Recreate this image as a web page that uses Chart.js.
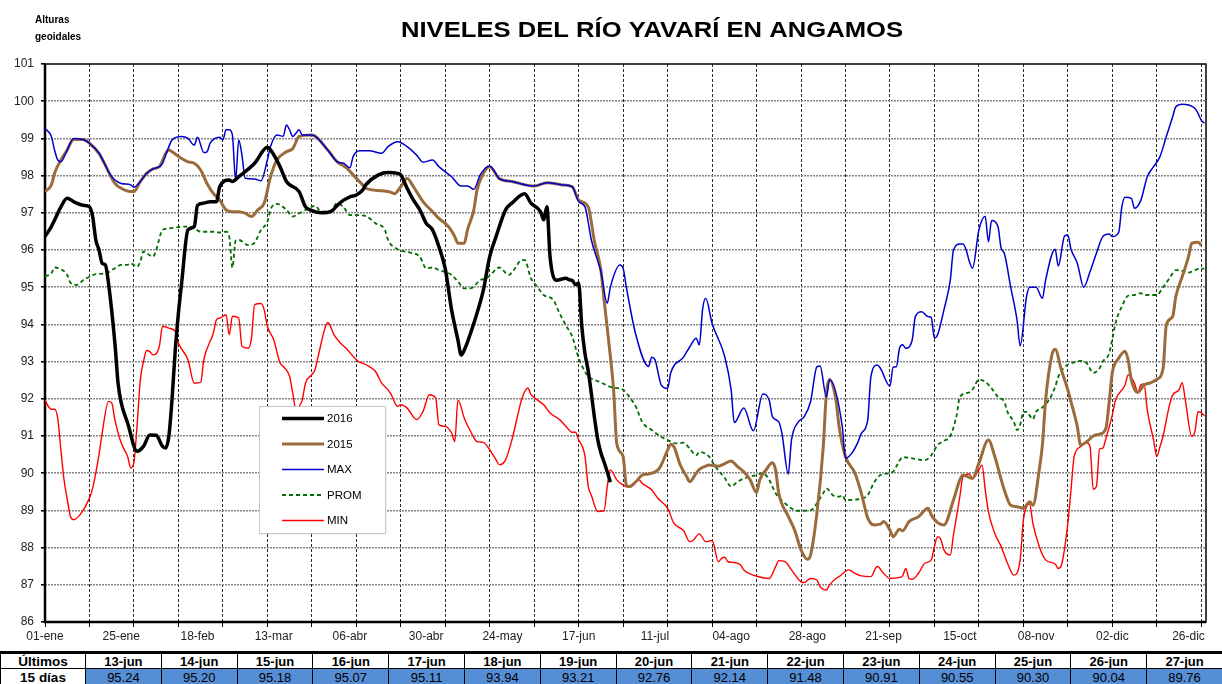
<!DOCTYPE html>
<html>
<head>
<meta charset="UTF-8">
<title>Niveles del río Yavarí en Angamos</title>
<script src="https://cdn.jsdelivr.net/npm/chart.js@4.4.1/dist/chart.umd.min.js"></script>
<style>
  html, body {margin: 0; padding: 0; background: #fff; width: 1222px; height: 684px; overflow: hidden;}
  body {position: relative; font-family: "Liberation Sans", Arial, sans-serif;}
  #chart {position: absolute; left: 0; top: 0;}
  #tabla {
    position: absolute; left: 0; top: 651px; width: 1222px;
    border-collapse: collapse; table-layout: fixed;
    font-family: "Liberation Sans Narrow", "Liberation Sans", Arial, sans-serif;
    font-size: 13px; color: #000;
  }
  #tabla td {border: 1px solid #000; text-align: center; padding: 0; overflow: visible;}
  #tabla tr:first-child td {border-top: 3px solid #000; font-weight: bold; height: 13px; line-height: 13px; padding-top: 1px;}
  #tabla tr:nth-child(2) td {height: 16px; line-height: 15px;}
  #tabla td.head {font-weight: bold; font-size: 13.5px;}
  #tabla td.val {background: #558ed5;}
</style>
</head>
<body>
<canvas id="chart" width="1222" height="648"></canvas>
<table id="tabla">
  <colgroup id="cols"></colgroup>
  <tr id="filaFechas"><td class="head">Últimos</td></tr>
  <tr id="filaValores"><td class="head">15 días</td></tr>
</table>
<script>
// eje x: dia del año (0 = 01-ene)
const xLabels = ['01-ene','25-ene','18-feb','13-mar','06-abr','30-abr','24-may','17-jun',
                 '11-jul','04-ago','28-ago','21-sep','15-oct','08-nov','02-dic','26-dic'];

// series [dia, nivel]
const s2016 = [[0,96.36],[2,96.63],[3,96.8],[5,97.16],[7,97.39],[9,97.3],[12,97.2],[14,97.16],[15,96.9],[16,96.27],
  [17,96.0],[18,95.64],[19,95.6],[20,95.1],[22,93.5],[23,92.42],[24,91.89],[26,91.35],[29,90.59],[31,90.72],
  [33,91.03],[35,91.02],[37,90.72],[38,90.68],[39,91.0],[40,92.0],[41,93.3],[42,94.3],[43,95.1],[45,96.54],
  [47,96.63],[48,97.2],[50,97.26],[52,97.3],[54,97.3],[55,97.7],[58,97.88],[59,97.84],[61,97.97],[66,98.33],
  [70,98.76],[71,98.69],[74,98.24],[76,97.84],[80,97.57],[82,97.16],[84,97.06],[87,97.0],[90,97.03],[92,97.2],
  [94,97.34],[96,97.43],[98,97.48],[100,97.61],[101,97.75],[105,98.02],[108,98.08],[111,98.06],[112,98.02],[114,97.66],
  [116,97.34],[118,97.08],[120,96.72],[122,96.54],[124,96.09],[126,95.5],[128,94.39],[130,93.58],[131,93.18],[132,93.31],
  [135,94.03],[138,94.92],[140,95.82],[142,96.36],[145,97.08],[147,97.26],[151,97.51],[153,97.26],[156,97.03],[157,96.81],
  [158,97.16],[159,95.82],[161,95.19],[164,95.24],[165,95.20],[166,95.18],[167,95.07],[168,95.11],[169,93.94],[170,93.21],
  [171,92.76],[172,92.14],[173,91.48],[174,90.91],[175,90.55],[176,90.30],[177,90.04],[178,89.76]];

const s2015 = [[0,97.57],[2,97.75],[3,98.06],[5,98.42],[7,98.69],[8,98.87],[9,98.97],[12,98.97],[14,98.87],[17,98.6],
  [19,98.28],[22,97.79],[24,97.66],[27,97.57],[28,97.57],[30,97.84],[32,98.06],[34,98.18],[36,98.24],[38,98.6],
  [39,98.69],[40,98.64],[43,98.46],[45,98.37],[47,98.33],[49,98.15],[51,97.79],[53,97.52],[55,97.34],[57,97.08],
  [59,97.03],[61,97.03],[63,96.99],[65,96.9],[67,97.08],[69,97.26],[71,97.97],[73,98.42],[76,98.64],[78,98.73],
  [80,99.05],[84,99.09],[89,98.69],[92,98.37],[95,98.2],[97,98.02],[100,97.75],[101,97.66],[106,97.59],[109,97.55],
  [110,97.51],[112,97.7],[114,97.92],[116,97.7],[119,97.3],[122,97.03],[124,96.85],[127,96.63],[129,96.36],[130,96.18],
  [132,96.18],[133,96.54],[135,97.08],[136,97.61],[138,98.06],[140,98.24],[143,97.92],[147,97.84],[154,97.72],[158,97.81],
  [163,97.75],[166,97.7],[168,97.34],[171,97.16],[173,96.22],[175,95.46],[176,94.66],[178,93.13],[179,92.24],[180,90.8],
  [182,90.45],[183,89.68],[184,89.64],[186,89.77],[188,89.95],[190,89.98],[193,90.09],[194,90.22],[196,90.62],[197,90.78],
  [198,90.71],[200,90.22],[202,89.91],[203,89.77],[205,90.0],[206,90.1],[208,90.19],[209,90.22],[212,90.19],[214,90.26],
  [216,90.33],[218,90.18],[220,90.04],[222,89.82],[224,89.48],[225,89.82],[227,90.09],[229,90.28],[230,90.09],[231,89.46],
  [234,88.84],[236,88.47],[238,87.94],[240,87.69],[241,87.8],[243,88.92],[245,90.71],[246,92.15],[247,92.52],[249,91.96],
  [250,91.25],[252,90.45],[255,90.0],[257,89.46],[259,88.8],[261,88.61],[263,88.63],[264,88.7],[266,88.47],[267,88.29],
  [269,88.49],[270,88.45],[272,88.7],[275,88.83],[278,89.06],[279,88.88],[281,88.67],[283,88.61],[286,89.28],[288,89.82],
  [289,89.95],[292,89.86],[294,90.27],[297,90.89],[299,90.45],[302,89.55],[304,89.14],[306,89.1],[308,89.06],[310,89.23],
  [311,89.14],[313,90.09],[314,90.76],[315,91.96],[317,93.18],[318,93.33],[320,92.77],[322,92.24],[323,91.92],[325,91.25],
  [326,90.76],[328,90.85],[330,91.0],[332,91.05],[334,91.21],[335,91.9],[336,92.7],[338,93.09],[340,93.28],[341,93.04],
  [342,92.51],[344,92.17],[346,92.37],[348,92.43],[350,92.52],[352,92.82],[353,93.98],[355,94.21],[356,94.75],[358,95.28],
  [360,95.82],[361,96.18],[363,96.21],[364,96.13]];

const sMax = [[0,99.27],[2,99.05],[3,98.69],[4,98.42],[5,98.37],[7,98.69],[9,99.0],[12,98.97],[14,98.87],[17,98.6],
  [19,98.28],[20,98.1],[22,97.88],[24,97.79],[27,97.75],[28,97.69],[30,97.84],[32,98.06],[34,98.18],[36,98.24],
  [37,98.33],[39,98.78],[40,98.96],[43,99.05],[45,99.0],[47,98.82],[48,99.03],[50,98.62],[51,98.64],[52,98.87],
  [55,99.03],[56,98.96],[57,99.23],[58,99.23],[59,99.09],[60,97.88],[61,98.96],[62,98.55],[63,97.93],[66,97.91],
  [68,97.86],[70,98.42],[71,98.78],[73,99.09],[75,99.06],[76,99.36],[77,99.23],[78,99.05],[79,99.14],[80,99.23],
  [81,99.09],[84,99.09],[89,98.69],[92,98.37],[94,98.33],[96,98.21],[97,98.51],[99,98.67],[102,98.67],[106,98.6],
  [108,98.78],[111,98.91],[114,98.78],[117,98.55],[119,98.36],[122,98.42],[124,98.24],[128,97.97],[131,97.72],[133,97.72],
  [135,97.63],[137,98.02],[140,98.26],[143,97.92],[147,97.84],[154,97.72],[158,97.81],[163,97.75],[166,97.7],[168,97.3],
  [170,97.16],[172,96.27],[175,95.42],[177,94.57],[178,95.01],[181,95.6],[182,95.51],[183,95.01],[186,93.72],[190,92.87],
  [191,93.12],[192,93.06],[194,92.37],[196,92.28],[197,92.7],[201,93.12],[203,93.4],[205,93.63],[206,93.45],[207,94.39],
  [208,94.7],[210,94.03],[214,93.13],[216,92.24],[217,91.36],[220,91.75],[223,91.14],[226,92.13],[228,91.96],[229,91.52],
  [231,91.38],[232,91.07],[234,89.98],[235,90.89],[237,91.36],[239,91.52],[241,91.92],[243,92.86],[244,92.88],[246,92.05],
  [247,92.51],[251,91.25],[252,90.4],[254,90.54],[256,90.85],[257,91.07],[259,91.43],[260,92.59],[262,92.91],[263,92.82],
  [266,92.34],[267,92.85],[268,92.86],[269,93.35],[270,93.45],[271,93.36],[273,93.58],[274,94.21],[276,94.34],[278,94.21],
  [279,94.19],[280,93.63],[281,93.72],[283,94.39],[285,95.19],[286,96.0],[288,96.16],[289,96.16],[290,96.0],[291,95.69],
  [292,95.51],[294,96.54],[296,96.91],[297,96.22],[298,96.79],[300,96.63],[301,96.05],[302,95.91],[304,95.01],[306,94.12],
  [307,93.42],[309,94.75],[310,95.0],[312,95.0],[314,94.7],[315,95.19],[318,96.02],[319,95.57],[321,96.38],[322,96.4],
  [323,96.02],[325,95.64],[327,95.0],[329,95.42],[331,95.91],[333,96.36],[335,96.43],[336,96.36],[338,96.47],[339,97.16],
  [340,97.42],[342,97.39],[343,97.12],[345,97.34],[347,97.97],[349,98.24],[351,98.51],[353,99.05],[355,99.58],[356,99.85],
  [358,99.92],[360,99.9],[362,99.81],[363,99.67],[364,99.49],[365,99.41]];

const sProm = [[0,95.3],[2,95.37],[3,95.53],[5,95.48],[7,95.33],[8,95.12],[10,95.06],[12,95.19],[14,95.28],[16,95.35],
  [19,95.37],[22,95.51],[24,95.6],[26,95.6],[27,95.64],[29,95.55],[30,95.69],[31,95.96],[34,95.82],[35,96.0],
  [37,96.54],[39,96.58],[44,96.63],[47,96.58],[49,96.49],[53,96.49],[55,96.47],[57,96.49],[58,96.36],[59,95.53],
  [60,96.25],[61,96.27],[64,96.13],[66,96.2],[68,96.54],[70,96.76],[71,97.09],[73,97.24],[76,97.08],[78,96.9],
  [80,96.98],[83,97.12],[85,97.19],[87,97.03],[90,97.06],[92,97.26],[94,97.15],[96,96.94],[98,96.94],[101,96.91],
  [104,96.72],[107,96.54],[108,96.27],[111,96.02],[115,95.93],[118,95.82],[120,95.51],[122,95.53],[124,95.46],[128,95.33],
  [130,95.15],[132,94.97],[134,94.97],[137,95.19],[139,95.24],[142,95.48],[143,95.53],[146,95.33],[148,95.51],[150,95.73],
  [151,95.73],[153,95.24],[155,95.01],[157,94.79],[160,94.66],[162,94.3],[164,93.97],[166,93.67],[168,93.1],[171,92.6],
  [173,92.51],[175,92.44],[178,92.32],[182,92.24],[184,92.05],[186,91.79],[188,91.38],[191,91.16],[194,90.98],[196,90.89],
  [199,90.8],[201,90.82],[203,90.66],[205,90.48],[206,90.57],[209,90.45],[211,90.18],[214,89.87],[216,89.64],[218,89.77],
  [221,89.89],[224,89.95],[226,90.0],[228,89.82],[230,89.46],[233,89.19],[235,89.05],[237,88.99],[241,89.0],[243,89.19],
  [245,89.46],[246,89.59],[248,89.41],[250,89.37],[251,89.41],[252,89.28],[256,89.3],[259,89.41],[261,89.75],[263,89.95],
  [267,90.04],[268,90.18],[270,90.43],[273,90.4],[277,90.35],[279,90.48],[281,90.76],[283,90.87],[285,91.0],[287,91.56],
  [288,92.05],[291,92.17],[292,92.25],[294,92.51],[296,92.46],[298,92.28],[300,92.05],[302,91.92],[303,91.65],[305,91.38],
  [306,91.16],[307,91.3],[308,91.65],[309,91.65],[311,91.45],[312,91.65],[314,91.77],[316,91.96],[318,92.32],[319,92.59],
  [321,92.86],[323,92.95],[326,93.02],[328,92.95],[330,92.7],[332,92.82],[333,93.0],[335,93.22],[336,93.6],[337,94.03],
  [339,94.48],[341,94.77],[343,94.79],[345,94.84],[346,94.79],[350,94.79],[352,95.0],[354,95.24],[356,95.46],[358,95.44],
  [360,95.39],[362,95.46],[364,95.5],[365,95.5]];

const sMin = [[0,91.97],[1,91.8],[2,91.72],[3,91.72],[4,91.48],[5,90.63],[6,89.82],[7,89.3],[8,88.84],[9,88.75],
  [11,88.88],[14,89.33],[15,89.6],[17,90.5],[18,91.08],[20,91.93],[21,91.89],[22,91.44],[24,90.81],[26,90.45],
  [27,90.14],[28,90.3],[29,91.3],[30,92.5],[31,93.0],[32,93.3],[33,93.27],[34,93.18],[36,93.41],[37,93.95],
  [39,93.9],[41,93.81],[42,93.5],[45,93.05],[47,92.42],[49,92.44],[50,93.05],[53,93.77],[54,94.13],[55,94.17],
  [57,94.26],[58,93.72],[59,94.22],[61,94.17],[62,93.41],[64,93.36],[65,93.63],[66,94.53],[68,94.56],[69,94.39],
  [70,93.95],[72,93.59],[74,92.96],[75,92.87],[77,92.6],[78,92.15],[79,91.71],[80,91.8],[81,91.97],[82,92.42],
  [84,92.65],[85,92.78],[86,93.14],[88,93.86],[89,94.05],[91,93.72],[93,93.5],[95,93.34],[97,93.14],[99,92.98],
  [100,92.96],[102,92.87],[104,92.74],[106,92.42],[108,92.24],[109,92.11],[111,91.8],[112,91.84],[114,91.75],[117,91.44],
  [119,91.66],[121,92.11],[123,92.02],[124,91.3],[126,91.26],[128,91.08],[129,90.85],[130,91.97],[132,91.48],[134,91.12],
  [136,90.85],[138,90.83],[140,90.63],[142,90.36],[143,90.23],[145,90.36],[147,90.9],[149,91.62],[150,91.97],[152,92.29],
  [153,92.11],[155,91.97],[157,91.84],[159,91.62],[162,91.44],[164,91.26],[166,91.1],[167,91.1],[168,90.9],[170,90.45],
  [171,89.65],[172,89.41],[174,88.97],[176,88.99],[177,89.64],[178,90.09],[180,89.82],[182,89.68],[184,89.62],[187,89.82],
  [188,89.73],[191,89.55],[193,89.32],[196,89.06],[198,88.65],[201,88.46],[203,88.16],[204,88.19],[206,88.37],[208,88.16],
  [210,88.19],[212,87.62],[213,87.71],[214,87.74],[215,87.62],[217,87.6],[219,87.53],[220,87.4],[223,87.26],[226,87.19],
  [228,87.17],[230,87.49],[231,87.65],[233,87.62],[235,87.4],[238,87.08],[239,87.06],[241,87.17],[243,87.13],[244,86.95],
  [246,86.86],[247,87.0],[249,87.17],[250,87.22],[253,87.4],[255,87.31],[257,87.24],[260,87.22],[262,87.49],[264,87.31],
  [266,87.17],[269,87.2],[270,87.24],[271,87.44],[272,87.17],[273,87.15],[275,87.31],[277,87.58],[279,87.67],[280,88.03],
  [281,88.29],[282,88.22],[283,87.94],[285,87.8],[286,88.34],[288,89.37],[289,89.91],[291,89.98],[292,89.86],[294,90.09],
  [295,90.22],[296,89.55],[297,88.97],[299,88.38],[301,88.03],[303,87.58],[305,87.26],[307,87.67],[308,88.74],[309,89.1],
  [310,89.17],[311,88.65],[313,88.03],[315,87.67],[318,87.56],[319,87.44],[320,87.53],[322,88.65],[323,89.55],[324,90.45],
  [326,90.71],[328,90.82],[329,90.71],[330,89.57],[331,89.64],[332,90.65],[333,90.67],[334,90.94],[336,91.56],[337,91.96],
  [340,92.37],[341,92.64],[343,92.42],[344,92.17],[345,92.37],[346,92.4],[347,91.7],[349,90.89],[350,90.45],[351,90.71],
  [352,91.0],[354,91.83],[355,92.1],[357,92.24],[358,92.43],[359,91.96],[361,90.99],[362,91.12],[363,91.65],[364,91.63],
  [365,91.54]];

// tabla de los ultimos 15 dias
const tablaFechas = ['13-jun','14-jun','15-jun','16-jun','17-jun','18-jun','19-jun','20-jun',
                     '21-jun','22-jun','23-jun','24-jun','25-jun','26-jun','27-jun'];
const tablaValores = [95.24,95.20,95.18,95.07,95.11,93.94,93.21,92.76,92.14,91.48,90.91,90.55,90.30,90.04,89.76];

// build table
var cols = document.getElementById('cols');
var c0 = document.createElement('col'); c0.style.width = '85px'; cols.appendChild(c0);
tablaFechas.forEach(function (f, i) {
  var c = document.createElement('col'); c.style.width = '75.8px'; cols.appendChild(c);
  var td = document.createElement('td'); td.textContent = f;
  document.getElementById('filaFechas').appendChild(td);
  var tv = document.createElement('td'); tv.className = 'val'; tv.textContent = tablaValores[i].toFixed(2);
  document.getElementById('filaValores').appendChild(tv);
});

const FONT = '"Liberation Sans", Arial, sans-serif';
const toXY = s => s.map(p => ({x: p[0], y: p[1]}));

// ticks: grid lines every 14 days, labels every 24 days
var tickVals = [];
for (var d = 0; d <= 365; d++) {
  if (d % 14 === 0 || (d % 24 === 0 && d <= 360)) tickVals.push(d);
}

// titles and frame
const decoPlugin = {
  id: 'deco',
  beforeDraw(chart) {
    const ctx = chart.ctx;
    ctx.save();
    ctx.fillStyle = '#000';
    ctx.textBaseline = 'middle';
    ctx.font = 'bold 10px ' + FONT;
    ctx.textAlign = 'left';
    ctx.fillText('Alturas', 35, 20);
    ctx.fillText('geoidales', 35, 37);
    // title, a little wider than the plain font
    const title = 'NIVELES DEL RÍO YAVARÍ EN ANGAMOS';
    ctx.font = 'bold 22px ' + FONT;
    const w = ctx.measureText(title).width;
    ctx.translate(652, 31);
    ctx.scale(502 / w, 1);
    ctx.textAlign = 'center';
    ctx.fillText(title, 0, 0);
    ctx.restore();
  },
  beforeDatasetsDraw(chart) {
    const a = chart.chartArea, ctx = chart.ctx;
    ctx.save();
    ctx.strokeStyle = '#000';
    ctx.lineWidth = 1.5;
    ctx.strokeRect(a.left, a.top, a.right - a.left, a.bottom - a.top);
    ctx.lineWidth = 2.5;
    ctx.beginPath();
    ctx.moveTo(a.left, a.top); ctx.lineTo(a.left, a.bottom); ctx.lineTo(a.right, a.bottom);
    ctx.stroke();
    ctx.restore();
  },
  afterDatasetsDraw(chart) {
    // legend box
    const ctx = chart.ctx;
    const bx = 259, by = 406, bw = 126, bh = 127;
    ctx.save();
    ctx.shadowColor = 'rgba(0,0,0,0.15)';
    ctx.shadowOffsetX = 1; ctx.shadowOffsetY = 1; ctx.shadowBlur = 2;
    ctx.fillStyle = '#fff';
    ctx.fillRect(bx, by, bw, bh);
    ctx.shadowColor = 'transparent';
    ctx.strokeStyle = '#c8c8c8';
    ctx.lineWidth = 1;
    ctx.strokeRect(bx + 0.5, by + 0.5, bw, bh);
    ctx.font = '11.5px ' + FONT;
    ctx.textBaseline = 'middle';
    ctx.textAlign = 'left';
    chart.data.datasets.forEach(function (ds, i) {
      const y = by + 12.5 + i * 25.5;
      ctx.strokeStyle = ds.borderColor;
      ctx.lineWidth = ds.borderWidth;
      ctx.setLineDash(ds.borderDash || []);
      ctx.beginPath(); ctx.moveTo(282, y); ctx.lineTo(324, y); ctx.stroke();
      ctx.setLineDash([]);
      ctx.fillStyle = '#000';
      ctx.fillText(ds.label, 327, y + 0.5);
    });
    ctx.restore();
  }
};

var myChart = new Chart(document.getElementById('chart'), {
  type: 'line',
  data: {
    datasets: [
      {label: '2016', data: toXY(s2016), borderColor: '#000000', borderWidth: 3.5, order: 0},
      {label: '2015', data: toXY(s2015), borderColor: '#9b6b3b', borderWidth: 3, order: 2},
      {label: 'MAX', data: toXY(sMax), borderColor: '#0000cc', borderWidth: 1.5, order: 1},
      {label: 'PROM', data: toXY(sProm), borderColor: '#006e00', borderWidth: 1.8, borderDash: [4, 3], order: 3},
      {label: 'MIN', data: toXY(sMin), borderColor: '#ff0000', borderWidth: 1.4, order: 4}
    ]
  },
  options: {
    responsive: false,
    animation: false,
    devicePixelRatio: 1,
    layout: {padding: {top: 64, right: 16, left: 0, bottom: 0}},
    elements: {
      point: {radius: 0, hoverRadius: 0},
      line: {cubicInterpolationMode: 'monotone', fill: false}
    },
    plugins: {legend: {display: false}, tooltip: {enabled: false}, title: {display: false}},
    scales: {
      x: {
        type: 'linear', min: 0, max: 365.5,
        afterBuildTicks: function (s) { s.ticks = tickVals.map(v => ({value: v})); },
        afterFit: function (s) { s.height = 26; },
        ticks: {
          autoSkip: false, maxRotation: 0, padding: 2, color: '#222',
          font: {family: FONT, size: 12},
          callback: v => (v % 24 === 0 ? xLabels[v / 24] : '')
        },
        grid: {
          color: c => (c.tick && c.tick.value % 14 === 0 && c.tick.value > 0 ? '#2a2a2a' : 'transparent'),
          tickColor: c => (c.tick && c.tick.value % 14 === 0 ? '#000' : 'transparent'),
          lineWidth: 1, tickLength: 5
        },
        border: {display: false, dash: [3, 2]}
      },
      y: {
        min: 86, max: 101,
        afterFit: function (s) { s.width = 45; },
        ticks: {stepSize: 1, padding: 7, color: '#222', font: {family: FONT, size: 12}},
        grid: {
          color: c => (c.tick && (c.tick.value === 86 || c.tick.value === 101) ? 'transparent' : '#858585'),
          tickColor: '#000', lineWidth: 1.6, tickLength: 4
        },
        border: {display: false, dash: [2, 1]}
      }
    }
  },
  plugins: [decoPlugin]
});
</script>
</body>
</html>
